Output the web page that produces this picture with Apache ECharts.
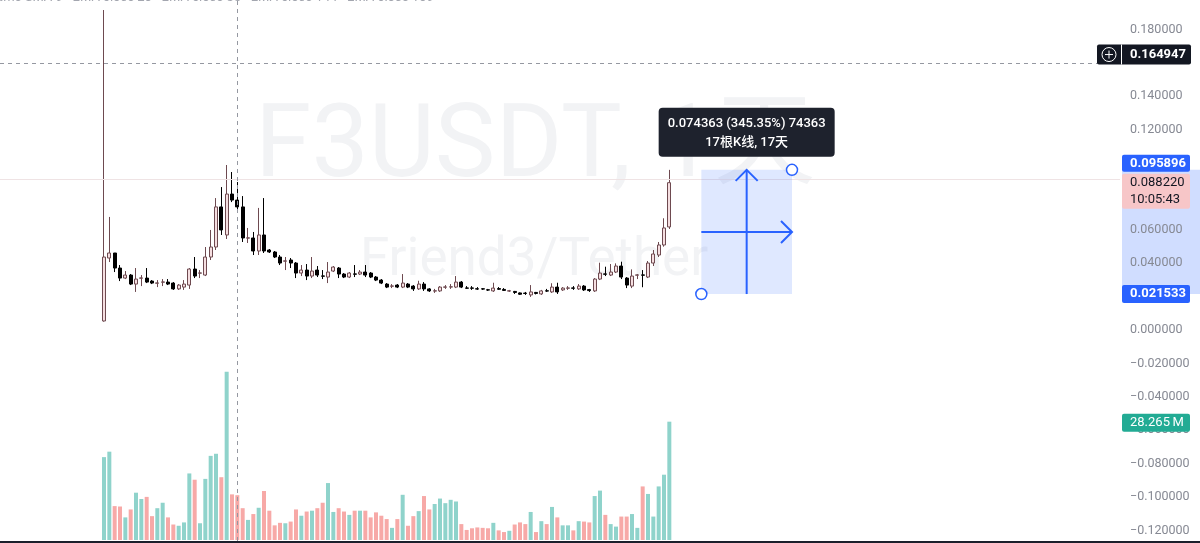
<!DOCTYPE html>
<html>
<head>
<meta charset="utf-8">
<script src="https://cdn.jsdelivr.net/npm/echarts@6/dist/echarts.min.js"></script>
<style>
html,body{margin:0;padding:0;background:#ffffff;}
#c{width:1200px;height:543px;}
</style>
</head>
<body>
<div id="c"></div>
<script>
// ---------- data ----------
const opens = [
  0.0054,0.0431,0.0461,0.0371,0.0311,0.0329,0.0275,0.0310,0.0311,0.0293,
  0.0280,0.0286,0.0287,0.0281,0.0246,0.0257,0.0269,0.0365,0.0340,0.0329,
  0.0437,0.0497,0.0737,0.0569,0.0814,0.0778,0.0737,0.0550,0.0551,0.0473,
  0.0569,0.0479,0.0467,0.0437,0.0412,0.0419,0.0401,0.0341,0.0359,0.0323,
  0.0359,0.0324,0.0317,0.0353,0.0371,0.0335,0.0317,0.0336,0.0335,0.0347,
  0.0341,0.0317,0.0299,0.0275,0.0262,0.0269,0.0257,0.0275,0.0263,0.0246,
  0.0275,0.0246,0.0233,0.0234,0.0256,0.0257,0.0257,0.0287,0.0252,0.0252,
  0.0247,0.0247,0.0241,0.0234,0.0248,0.0243,0.0233,0.0231,0.0222,0.0221,
  0.0210,0.0225,0.0216,0.0235,0.0228,0.0257,0.0240,0.0250,0.0252,0.0246,
  0.0263,0.0242,0.0234,0.0305,0.0336,0.0329,0.0347,0.0383,0.0311,0.0263,
  0.0328,0.0330,0.0317,0.0401,0.0449,0.0509,0.0617
];
const closes = [
  0.0437,0.0461,0.0371,0.0311,0.0329,0.0275,0.0305,0.0312,0.0287,0.0281,
  0.0282,0.0288,0.0275,0.0246,0.0269,0.0275,0.0365,0.0323,0.0342,0.0437,
  0.0497,0.0737,0.0599,0.0814,0.0778,0.0737,0.0551,0.0552,0.0473,0.0569,
  0.0473,0.0467,0.0437,0.0401,0.0414,0.0401,0.0341,0.0359,0.0323,0.0353,
  0.0329,0.0322,0.0347,0.0377,0.0335,0.0317,0.0341,0.0334,0.0347,0.0329,
  0.0317,0.0299,0.0281,0.0257,0.0264,0.0257,0.0281,0.0257,0.0246,0.0275,
  0.0246,0.0234,0.0235,0.0257,0.0258,0.0259,0.0287,0.0257,0.0250,0.0250,
  0.0245,0.0245,0.0239,0.0251,0.0244,0.0237,0.0235,0.0225,0.0214,0.0219,
  0.0228,0.0219,0.0234,0.0233,0.0257,0.0228,0.0251,0.0252,0.0250,0.0263,
  0.0240,0.0236,0.0305,0.0341,0.0334,0.0347,0.0383,0.0317,0.0269,0.0323,
  0.0330,0.0328,0.0401,0.0455,0.0509,0.0611,0.08822
];
const lows = [
  0.0050,0.0407,0.0347,0.0293,0.0305,0.0269,0.0228,0.0263,0.0281,0.0275,
  0.0257,0.0263,0.0269,0.0240,0.0240,0.0240,0.0246,0.0311,0.0311,0.0323,
  0.0419,0.0479,0.0569,0.0545,0.0766,0.0713,0.0527,0.0521,0.0449,0.0449,
  0.0461,0.0461,0.0431,0.0389,0.0359,0.0371,0.0311,0.0323,0.0299,0.0311,
  0.0317,0.0305,0.0281,0.0347,0.0311,0.0311,0.0311,0.0317,0.0329,0.0317,
  0.0311,0.0293,0.0275,0.0251,0.0251,0.0251,0.0251,0.0251,0.0234,0.0240,
  0.0234,0.0228,0.0222,0.0228,0.0246,0.0246,0.0251,0.0251,0.0246,0.0240,
  0.0240,0.0240,0.0234,0.0228,0.0240,0.0234,0.0228,0.0216,0.0210,0.0210,
  0.0198,0.0213,0.0210,0.0228,0.0222,0.0216,0.0234,0.0240,0.0240,0.0240,
  0.0234,0.0228,0.0228,0.0299,0.0323,0.0323,0.0341,0.0305,0.0251,0.0251,
  0.0305,0.0256,0.0311,0.0383,0.0437,0.0499,0.0605
];
const highs = [
  0.1916,0.0677,0.0461,0.0389,0.0353,0.0335,0.0371,0.0329,0.0371,0.0299,
  0.0299,0.0305,0.0305,0.0287,0.0275,0.0299,0.0371,0.0437,0.0359,0.0497,
  0.0599,0.0790,0.0856,0.0988,0.0946,0.0886,0.0802,0.0611,0.0587,0.0731,
  0.0790,0.0485,0.0473,0.0449,0.0437,0.0431,0.0407,0.0389,0.0395,0.0437,
  0.0383,0.0359,0.0407,0.0383,0.0377,0.0341,0.0347,0.0389,0.0359,0.0389,
  0.0347,0.0323,0.0305,0.0281,0.0275,0.0275,0.0335,0.0281,0.0269,0.0295,
  0.0287,0.0251,0.0246,0.0263,0.0269,0.0275,0.0323,0.0293,0.0263,0.0263,
  0.0257,0.0251,0.0246,0.0283,0.0257,0.0251,0.0240,0.0234,0.0225,0.0228,
  0.0269,0.0228,0.0240,0.0246,0.0280,0.0283,0.0257,0.0263,0.0263,0.0275,
  0.0269,0.0246,0.0311,0.0403,0.0379,0.0395,0.0399,0.0409,0.0317,0.0363,
  0.0335,0.0359,0.0413,0.0479,0.0527,0.0669,0.0959
];
// volume in millions
const volumes = [
  19.8,21.1,8.1,8.0,5.4,7.3,11.3,9.8,10.3,5.7,
  7.6,8.9,5.4,3.7,3.4,4.2,15.9,14.4,4.0,14.6,
  20.1,20.6,15.0,40.2,10.9,10.7,7.6,4.8,6.2,7.7,
  11.7,7.0,3.5,4.1,4.0,4.4,7.3,5.8,6.8,7.0,
  7.6,8.9,13.6,6.7,7.6,6.8,6.0,7.0,7.0,7.0,
  5.4,6.6,5.8,5.0,2.9,5.0,10.8,3.4,5.7,6.9,
  10.5,7.3,8.6,9.9,8.8,9.6,9.2,3.8,2.4,2.8,
  3.0,2.9,2.8,4.1,2.3,1.9,2.2,3.7,4.2,3.8,
  6.7,1.9,4.5,3.8,7.9,5.4,3.5,3.5,2.3,4.5,
  4.4,4.2,10.5,11.8,6.0,3.8,3.2,5.6,5.6,6.2,
  2.9,12.8,11.0,5.6,12.8,15.6,28.265
];
// visible price range of the pane and the tick labels that stay visible
const priceRange = {min: -0.126347, max: 0.197605};
const priceTickValues = [-0.12, -0.10, -0.08, -0.06, -0.04, -0.02, 0, 0.04, 0.06, 0.12, 0.14, 0.18];
const cutTopTick = 0.20;
const volumeMax = 43.0;
const crossIdx = 25;            // candle under vertical crosshair
const crossPrice = 0.164947;    // horizontal crosshair price
const lastPrice = 0.088220;
const countdown = '10:05:43';
const lastVolumeLabel = '28.265\u2009M';
const measureStart = 112, measureEnd = 129;   // bar indices of the measure box
const measureLow = 0.021533, measureHigh = 0.095896;
const measureLine1 = '0.074363 (345.35%) 74363';
const measureLine2 = '17根K线, 17天';
const watermark1 = 'F3USDT, 1天';
const watermark2 = 'Friend3/Tether';
const legendText = 'ume SMA 9   EMA close 20   EMA close 55   EMA close 144   EMA close 169';

// ---------- layout ----------
const LEAD = 19, TOTAL = 210;
const cats = Array.from({length: TOTAL}, (_, k) => 'd' + k);
const FONT = 'Roboto, "Noto Sans CJK SC", sans-serif';
const UP_FILL = '#f5dfe1', UP_LINE = '#6e4a50';
const TEAL = '#8fd3cb', RED = '#f7a9a7';

const candleItems = opens.map((o, i) => [LEAD + i, o, closes[i], lows[i], highs[i]]);
const volItems = volumes.map((v, i) => ({
  value: [LEAD + i, v],
  itemStyle: {color: closes[i] >= opens[i] ? TEAL : RED}
}));
const fmt = v => (v < -1e-9 ? '\u2212' : '') + Math.abs(v).toFixed(6);

const chart = echarts.init(document.getElementById('c'));
chart.setOption({
  animation: false,
  backgroundColor: '#ffffff',
  grid: [
    {left: 0, right: 80, top: 0, bottom: 2},
    {left: 0, right: 80, top: 360, bottom: 3}
  ],
  xAxis: [
    {type: 'category', gridIndex: 0, data: cats, show: false},
    {type: 'category', gridIndex: 1, data: cats, show: false}
  ],
  yAxis: [
    {type: 'value', gridIndex: 0, position: 'right', min: priceRange.min, max: priceRange.max,
     axisLine: {show: false}, axisTick: {show: false}, splitLine: {show: false},
     axisLabel: {margin: 10, color: '#868993', fontSize: 12.5, fontFamily: FONT, formatter: fmt,
       customValues: priceTickValues, showMinLabel: true, showMaxLabel: true}},
    {type: 'value', gridIndex: 1, min: 0, max: volumeMax, show: false}
  ],
  series: [
    {
      type: 'bar', xAxisIndex: 1, yAxisIndex: 1, barWidth: 4,
      data: volItems, encode: {x: 0, y: 1}, z: 1
    },
    {
      type: 'candlestick', xAxisIndex: 0, yAxisIndex: 0, barWidth: 3.4,
      dimensions: ['x', 'open', 'close', 'lowest', 'highest'],
      encode: {x: 0, y: [1, 2, 3, 4]},
      data: candleItems, z: 3,
      itemStyle: {color: UP_FILL, color0: '#000000', borderColor: UP_LINE, borderColor0: '#000000', borderWidth: 1},
      markLine: {
        silent: true, symbol: ['none', 'none'], animation: false,
        label: {show: false},
        data: [
          {yAxis: lastPrice, lineStyle: {color: '#efe3e4', type: 'solid', width: 1}},
          {xAxis: cats[LEAD + crossIdx], lineStyle: {color: '#9598a1', type: [4, 4], width: 1}},
          {yAxis: crossPrice, lineStyle: {color: '#9598a1', type: [4, 4], width: 1}}
        ]
      }
    }
  ]
});

// ---------- overlays placed through the chart's own scales ----------
const P = (i, v) => chart.convertToPixel({xAxisIndex: 0, yAxisIndex: 0}, [LEAD + i, v]);
const x0 = P(measureStart, measureHigh)[0], x1 = P(measureEnd, measureHigh)[0];
const yT = P(measureStart, measureHigh)[1], yB = P(measureStart, measureLow)[1];
const xm = (x0 + x1) / 2, ym = (yT + yB) / 2;
const yCross = P(0, crossPrice)[1];
const yLast = P(0, lastPrice)[1];
const yTopTick = P(0, cutTopTick)[1];
const yVol = chart.convertToPixel({xAxisIndex: 1, yAxisIndex: 1}, [LEAD, volumes[volumes.length - 1]])[1];
const AX = 1122, AW = 68;
const BLUE = '#2962ff';

function box(y, h, fill, z) {
  return {type: 'rect', shape: {x: AX, y: y, width: AW, height: h, r: 2}, style: {fill: fill}, z: z || 50};
}
function txt(x, y, s, color, size, weight, align, z) {
  return {type: 'text', x: x, y: y, z: z || 51,
    style: {text: s, fill: color, font: (weight || 'normal') + ' ' + size + 'px ' + FONT,
      textAlign: align || 'left', textVerticalAlign: 'middle'}};
}

const g = [
  // watermark
  {type: 'text', x: 255, y: 150, z: 0, style: {text: watermark1, fill: '#f2f3f5',
    font: 'normal 102px ' + FONT, textAlign: 'left', textVerticalAlign: 'middle'}},
  {type: 'text', x: 360, y: 262, z: 0, style: {text: watermark2, fill: '#f2f3f5',
    font: 'normal 53px ' + FONT, textAlign: 'left', textVerticalAlign: 'middle'}},
  // cut-off legend line at the top
  {type: 'text', x: -4, y: -2, z: 10, style: {text: legendText, fill: '#a3a6af',
    font: 'normal 13px ' + FONT, textAlign: 'left', textVerticalAlign: 'middle'}},
  // cut-off top tick label
  txt(1130, yTopTick, fmt(cutTopTick), '#868993', 12.5, 'normal', 'left', 1),
  // measure box
  {type: 'rect', z: 6, shape: {x: x0, y: yT, width: x1 - x0, height: yB - yT}, style: {fill: 'rgba(41,98,255,0.15)'}},
  {type: 'polyline', z: 7, shape: {points: [[xm, yB], [xm, yT]]}, style: {stroke: BLUE, lineWidth: 2, fill: null}},
  {type: 'polyline', z: 7, shape: {points: [[xm - 11, yT + 11], [xm, yT], [xm + 11, yT + 11]]}, style: {stroke: BLUE, lineWidth: 2, fill: null}},
  {type: 'polyline', z: 7, shape: {points: [[x0, ym], [x1, ym]]}, style: {stroke: BLUE, lineWidth: 2, fill: null}},
  {type: 'polyline', z: 7, shape: {points: [[x1 - 11, ym - 11], [x1, ym], [x1 - 11, ym + 11]]}, style: {stroke: BLUE, lineWidth: 2, fill: null}},
  {type: 'circle', z: 8, shape: {cx: x0, cy: yB, r: 5.5}, style: {fill: '#ffffff', stroke: BLUE, lineWidth: 1.5}},
  {type: 'circle', z: 8, shape: {cx: x1, cy: yT, r: 5.5}, style: {fill: '#ffffff', stroke: BLUE, lineWidth: 1.5}},
  // measure tooltip
  {type: 'rect', z: 20, shape: {x: xm - 88, y: yT - 62, width: 176, height: 49, r: 4}, style: {fill: '#1e222d'}},
  txt(xm, yT - 46, measureLine1, '#ffffff', 13, '500', 'center', 21),
  txt(xm, yT - 27, measureLine2, '#ffffff', 13, '500', 'center', 21),
  // axis band for measure
  {type: 'rect', z: -1, shape: {x: AX, y: yT, width: 1200 - AX, height: yB - yT}, style: {fill: 'rgba(41,98,255,0.22)'}},
  // crosshair price label
  {type: 'rect', z: 50, shape: {x: 1097, y: yCross - 10, width: 94, height: 20, r: 2}, style: {fill: '#131722'}},
  {type: 'rect', z: 51, shape: {x: 1121, y: yCross - 10, width: 1, height: 20}, style: {fill: '#ffffff'}},
  {type: 'circle', z: 52, shape: {cx: 1109, cy: yCross, r: 7}, style: {fill: null, stroke: '#ffffff', lineWidth: 1}},
  {type: 'polyline', z: 52, shape: {points: [[1105, yCross], [1113, yCross]]}, style: {stroke: '#ffffff', lineWidth: 1}},
  {type: 'polyline', z: 52, shape: {points: [[1109, yCross - 4], [1109, yCross + 4]]}, style: {stroke: '#ffffff', lineWidth: 1}},
  txt(1130, yCross, crossPrice.toFixed(6), '#ffffff', 13, 'bold'),
  // measure price labels
  box(yT - 15, 17, BLUE), txt(1130, yT - 6.5, measureHigh.toFixed(6), '#ffffff', 13, 'bold'),
  box(yB - 9, 18, BLUE), txt(1130, yB, measureLow.toFixed(6), '#ffffff', 13, 'bold'),
  // last price + countdown
  box(yLast - 9, 35, '#f7c6c8'),
  txt(1130, yLast, lastPrice.toFixed(6), '#131722', 13, 'normal'),
  txt(1130, yLast + 17, countdown, '#131722', 13, 'normal'),
  // last volume label
  box(yVol - 8, 18, '#22ab94'), txt(1130, yVol + 1, lastVolumeLabel, '#ffffff', 13, 'normal'),
  // bottom border
  {type: 'rect', z: 60, shape: {x: 0, y: 541, width: 1200, height: 2}, style: {fill: '#1b1f2b'}}
];
chart.setOption({graphic: {elements: g}});
</script>
</body>
</html>
